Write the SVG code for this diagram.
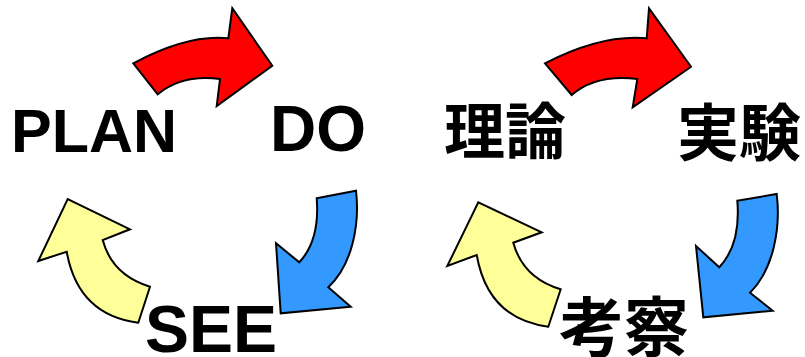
<svg xmlns="http://www.w3.org/2000/svg" width="805" height="357" viewBox="0 0 805 357">
<style>
.arrow{stroke:#000;stroke-width:2;stroke-linejoin:miter}
.red{fill:#ff0000}
.blue{fill:#3399ff}
.yellow{fill:#ffff99}
.lbl{font-family:"Liberation Sans",Arial,sans-serif;font-weight:bold;fill:#000}
.jp{font-family:"Noto Sans CJK JP","Noto Sans CJK SC",sans-serif;font-weight:bold;fill:#000}
</style>
<rect width="805" height="357" fill="#fff"/>
<g id="connectors">
<path class="arrow red" d="M133.3,63.3 Q188,34 228.3,38.3 L232.3,8.3 L272.3,65.7 L216.7,106 L220,79 Q182,74 157.7,94.3 Z"/>
<path class="arrow blue" d="M316.7,198.3 L356,190.7 C360,225 352,265 328.3,287.3 L350.7,306.7 L280.7,313.3 L276,243.3 L299.3,262.3 Q320,240 316.7,198.3 Z"/>
<path class="arrow yellow" d="M150,286.7 L138.3,322.7 Q78,315 66.7,251.7 L38.3,261 L67.7,199 L130,229.3 L102.7,240 Q112,275 150,286.7 Z"/>
<path class="arrow red" d="M545,63.3 Q602,34 646.7,38.3 L649,8.3 L691,66.7 L632.7,107.3 L637.3,79 Q596,74 571.7,95 Z"/>
<path class="arrow blue" d="M737.3,200.7 L776.7,194 C781,229 773,270 750,292.7 L772.7,310.7 L703.3,317.3 L696,246 L719.3,267.3 Q741,244 737.3,200.7 Z"/>
<path class="arrow yellow" d="M560.7,289.3 L548.3,326.7 Q488,319 476.7,255 L447.3,266 L478.3,202.3 L541.7,232.3 L513.3,242.7 Q523,278 560.7,289.3 Z"/>
</g>
<g id="plan"><text class="lbl" x="11" y="152" font-size="61">PLAN</text></g>
<g id="do"><text class="lbl" x="270" y="151" font-size="64">DO</text></g>
<g id="see"><text class="lbl" x="145" y="352" font-size="66">SEE</text></g>
<g id="riron"><text class="jp" x="444" y="154" font-size="61">理論</text></g>
<g id="jikken"><text class="jp" x="677" y="156" font-size="62">実験</text></g>
<g id="kousatsu"><text class="jp" x="559" y="351" font-size="65">考察</text></g>
</svg>
